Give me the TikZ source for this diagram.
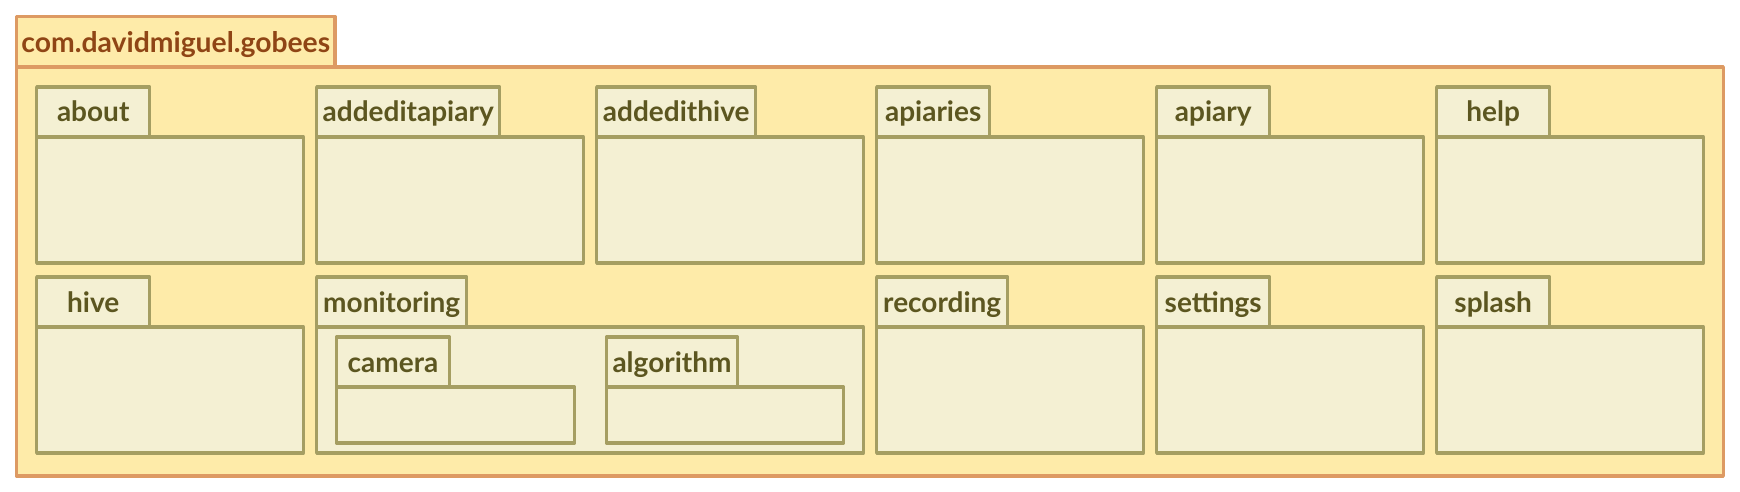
\documentclass[tikz,border=0pt]{standalone}
\usepackage{fontspec}
\setmainfont{Lato}[BoldFont={Lato Bold}]
\usetikzlibrary{calc}
\definecolor{outerfill}{HTML}{FEEBA9}
\definecolor{outerline}{HTML}{DD9A63}
\definecolor{outertext}{HTML}{8F4515}
\definecolor{innerfill}{HTML}{F4F0D3}
\definecolor{innerline}{HTML}{A59E62}
\definecolor{innertext}{HTML}{5C5620}
\tikzset{
  outerbox/.style={draw=outerline, fill=outerfill, line width=3.5pt, line join=round, inner sep=0pt, outer sep=0pt, anchor=north west},
  innerbox/.style={draw=innerline, fill=innerfill, line width=3.4pt, line join=round, inner sep=0pt, outer sep=0pt, anchor=north west},
  outerlabel/.style={text=outertext, font=\fontsize{28.3}{32}\selectfont\bfseries, anchor=base, inner sep=0pt},
  innerlabel/.style={text=innertext, font=\fontsize{28}{32}\selectfont\bfseries, anchor=base, inner sep=0pt},
}
% \pkgbox{name}{x}{y}{tabw}{bodyw}{bodyh}{label}
\newcommand{\pkgbox}[7]{%
  \node[innerbox, minimum width=#5pt, minimum height=#6pt] (#1body) at (#2,#3+50) {};
  \node[innerbox, minimum width=#4pt, minimum height=50pt] (#1tab) at (#2,#3) {};
  \node[innerlabel] (#1label) at ($(#1tab.north)+(0,35)$) {#7};
}
\begin{document}
\begin{tikzpicture}[x=1pt,y=-1pt]
\useasboundingbox (0,0) rectangle (1740,492);
% outer package
\node[outerbox, minimum width=1706.8pt, minimum height=409pt] (rootbody) at (16.5,67) {};
\node[outerbox, minimum width=318.5pt, minimum height=50.5pt] (roottab) at (16.5,16.5) {};
\node[outerlabel] (rootlabel) at ($(roottab.north)+(0,36)$) {com.davidmiguel.gobees};
% row 1
\pkgbox{about}{36.7}{87}{113}{266.5}{126}{about}
\pkgbox{addeditapiary}{316.7}{87}{183}{266.5}{126}{addeditapiary}
\pkgbox{addedithive}{596.7}{87}{159}{266.5}{126}{addedithive}
\pkgbox{apiaries}{876.7}{87}{113}{266.5}{126}{apiaries}
\pkgbox{apiary}{1156.7}{87}{113}{266.5}{126}{apiary}
\pkgbox{help}{1436.7}{87}{113}{266.5}{126}{help}
% row 2
\pkgbox{hive}{36.7}{277}{113}{266.5}{126}{hive}
\pkgbox{monitoring}{316.7}{277}{150}{546.5}{126}{monitoring}
\pkgbox{camera}{336.5}{337}{113}{238}{56}{camera}
\pkgbox{algorithm}{606.5}{337}{131}{237}{56}{algorithm}
\pkgbox{recording}{876.7}{277}{131}{266.5}{126}{recording}
\pkgbox{settings}{1156.7}{277}{113}{266.5}{126}{settings}
\pkgbox{splash}{1436.7}{277}{113}{266.5}{126}{splash}
\end{tikzpicture}
\end{document}
